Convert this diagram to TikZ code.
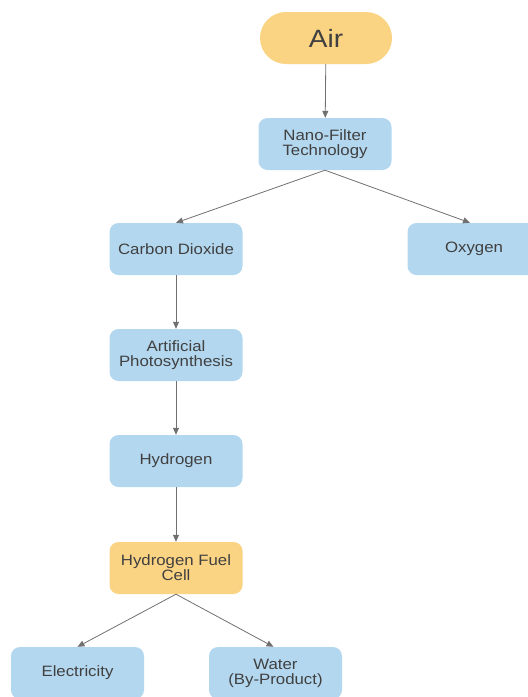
\documentclass[tikz,border=0pt]{standalone}
\usepackage{fontspec}
\setmainfont{Liberation Sans}[FakeStretch=1.12]
\usetikzlibrary{arrows.meta}
\definecolor{boxblue}{HTML}{B3D7EF}
\definecolor{boxorange}{HTML}{FAD383}
\definecolor{txtgray}{HTML}{404040}
\definecolor{linegray}{HTML}{707070}

\begin{document}
\begin{tikzpicture}[x=1pt,y=-1pt]
\tikzstyle{every node}=[font=\fontsize{15}{15}\selectfont, text=txtgray]
\tikzstyle{bluebox}=[fill=boxblue, rounded corners=9pt, minimum width=133pt, minimum height=52pt, align=center, inner sep=2pt]
\tikzstyle{orangebox}=[bluebox, fill=boxorange]
\tikzstyle{link}=[->, >={Triangle[length=7pt,width=6pt]}, draw=linegray, line width=0.8pt]
\useasboundingbox (0,0) rectangle (528,697);
\clip (0,0) rectangle (528,697);
\node [orangebox, rounded corners=26pt, minimum width=132pt, font=\fontsize{25}{27}\selectfont] (air) at (326,38) {Air};
\node [bluebox] (nano) at (325,144) {Nano-Filter\\Technology};
\node [bluebox] (co2) at (176,249) {Carbon Dioxide};
\node [bluebox] (oxygen) at (474,249) {Oxygen};
\node [bluebox] (photo) at (176,355) {Artificial\\Photosynthesis};
\node [bluebox] (hydrogen) at (176,461) {Hydrogen};
\node [orangebox] (cell) at (176,568) {Hydrogen Fuel\\Cell};
\node [bluebox] (elec) at (77.5,673) {Electricity};
\node [bluebox] (water) at (275.5,673) {Water\\(By-Product)};
\draw [link] (air) -- (nano);
\draw [link] (nano.south) -- (co2.north);
\draw [link] (nano.south) -- ([xshift=-4pt]oxygen.north);
\draw [link] (co2) -- (photo);
\draw [link] (photo) -- (hydrogen);
\draw [link] (hydrogen) -- (cell);
\draw [link] (cell.south) -- (elec.north);
\draw [link] (cell.south) -- ([xshift=-2pt]water.north);
\end{tikzpicture}
\end{document}
